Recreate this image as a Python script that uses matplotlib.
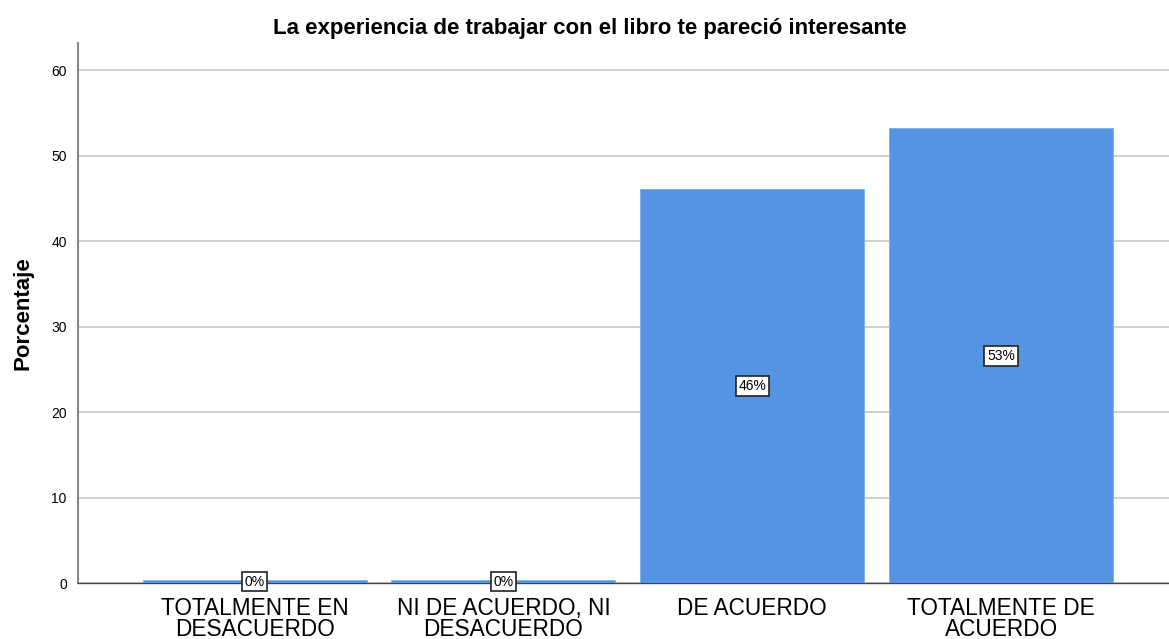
import numpy as np
import matplotlib.pyplot as plt

plt.rcParams['font.family'] = ['Liberation Sans', 'DejaVu Sans']

# datos
categorias = ["TOTALMENTE EN\nDESACUERDO", "NI DE ACUERDO, NI\nDESACUERDO",
              "DE ACUERDO", "TOTALMENTE DE\nACUERDO"]
porcentajes = [0.35, 0.35, 46.1, 53.2]
etiquetas = ["0%", "0%", "46%", "53%"]

fig = plt.figure(figsize=(11.69, 6.39), dpi=100)
ax = fig.add_axes([0.0667, 0.0876, 0.9333, 0.8451])

x = np.arange(len(categorias))
bars = ax.bar(x, porcentajes, width=0.9, color='#5594e2', edgecolor='#7aaeea',
              linewidth=0.6, zorder=3)

# etiquetas dentro de las barras
for xi, v, lab in zip(x, porcentajes, etiquetas):
    ax.text(xi, v / 2, lab, ha='center', va='center', fontsize=10, zorder=5,
            bbox=dict(boxstyle='square,pad=0.2', fc='white', ec='#222222', lw=1.2))

ax.set_xlim(-0.71, 3.675)
ax.set_ylim(0, 63.2)
ax.set_yticks([0, 10, 20, 30, 40, 50, 60])
ax.yaxis.grid(True, color='#c8c8c8', lw=1.2, zorder=0)
ax.set_axisbelow(True)

ax.set_xticks(x)
ax.set_xticklabels(categorias, fontsize=16.3, linespacing=0.88)
ax.tick_params(axis='x', length=0, pad=10)
ax.tick_params(axis='y', length=0, labelsize=10, pad=8)

for s in ['top', 'right']:
    ax.spines[s].set_visible(False)
ax.spines['left'].set_color('#888888')
ax.spines['left'].set_linewidth(1.5)
ax.spines['bottom'].set_color('#444444')
ax.spines['bottom'].set_linewidth(1.0)

ax.set_ylabel("Porcentaje", fontsize=16, fontweight='bold')
ax.yaxis.set_label_coords(-0.041, 0.5)
fig.text(0.505, 0.955, "La experiencia de trabajar con el libro te pareció interesante",
         ha='center', va='center', fontsize=16, fontweight='bold')

fig.savefig("out.png", dpi=100)
